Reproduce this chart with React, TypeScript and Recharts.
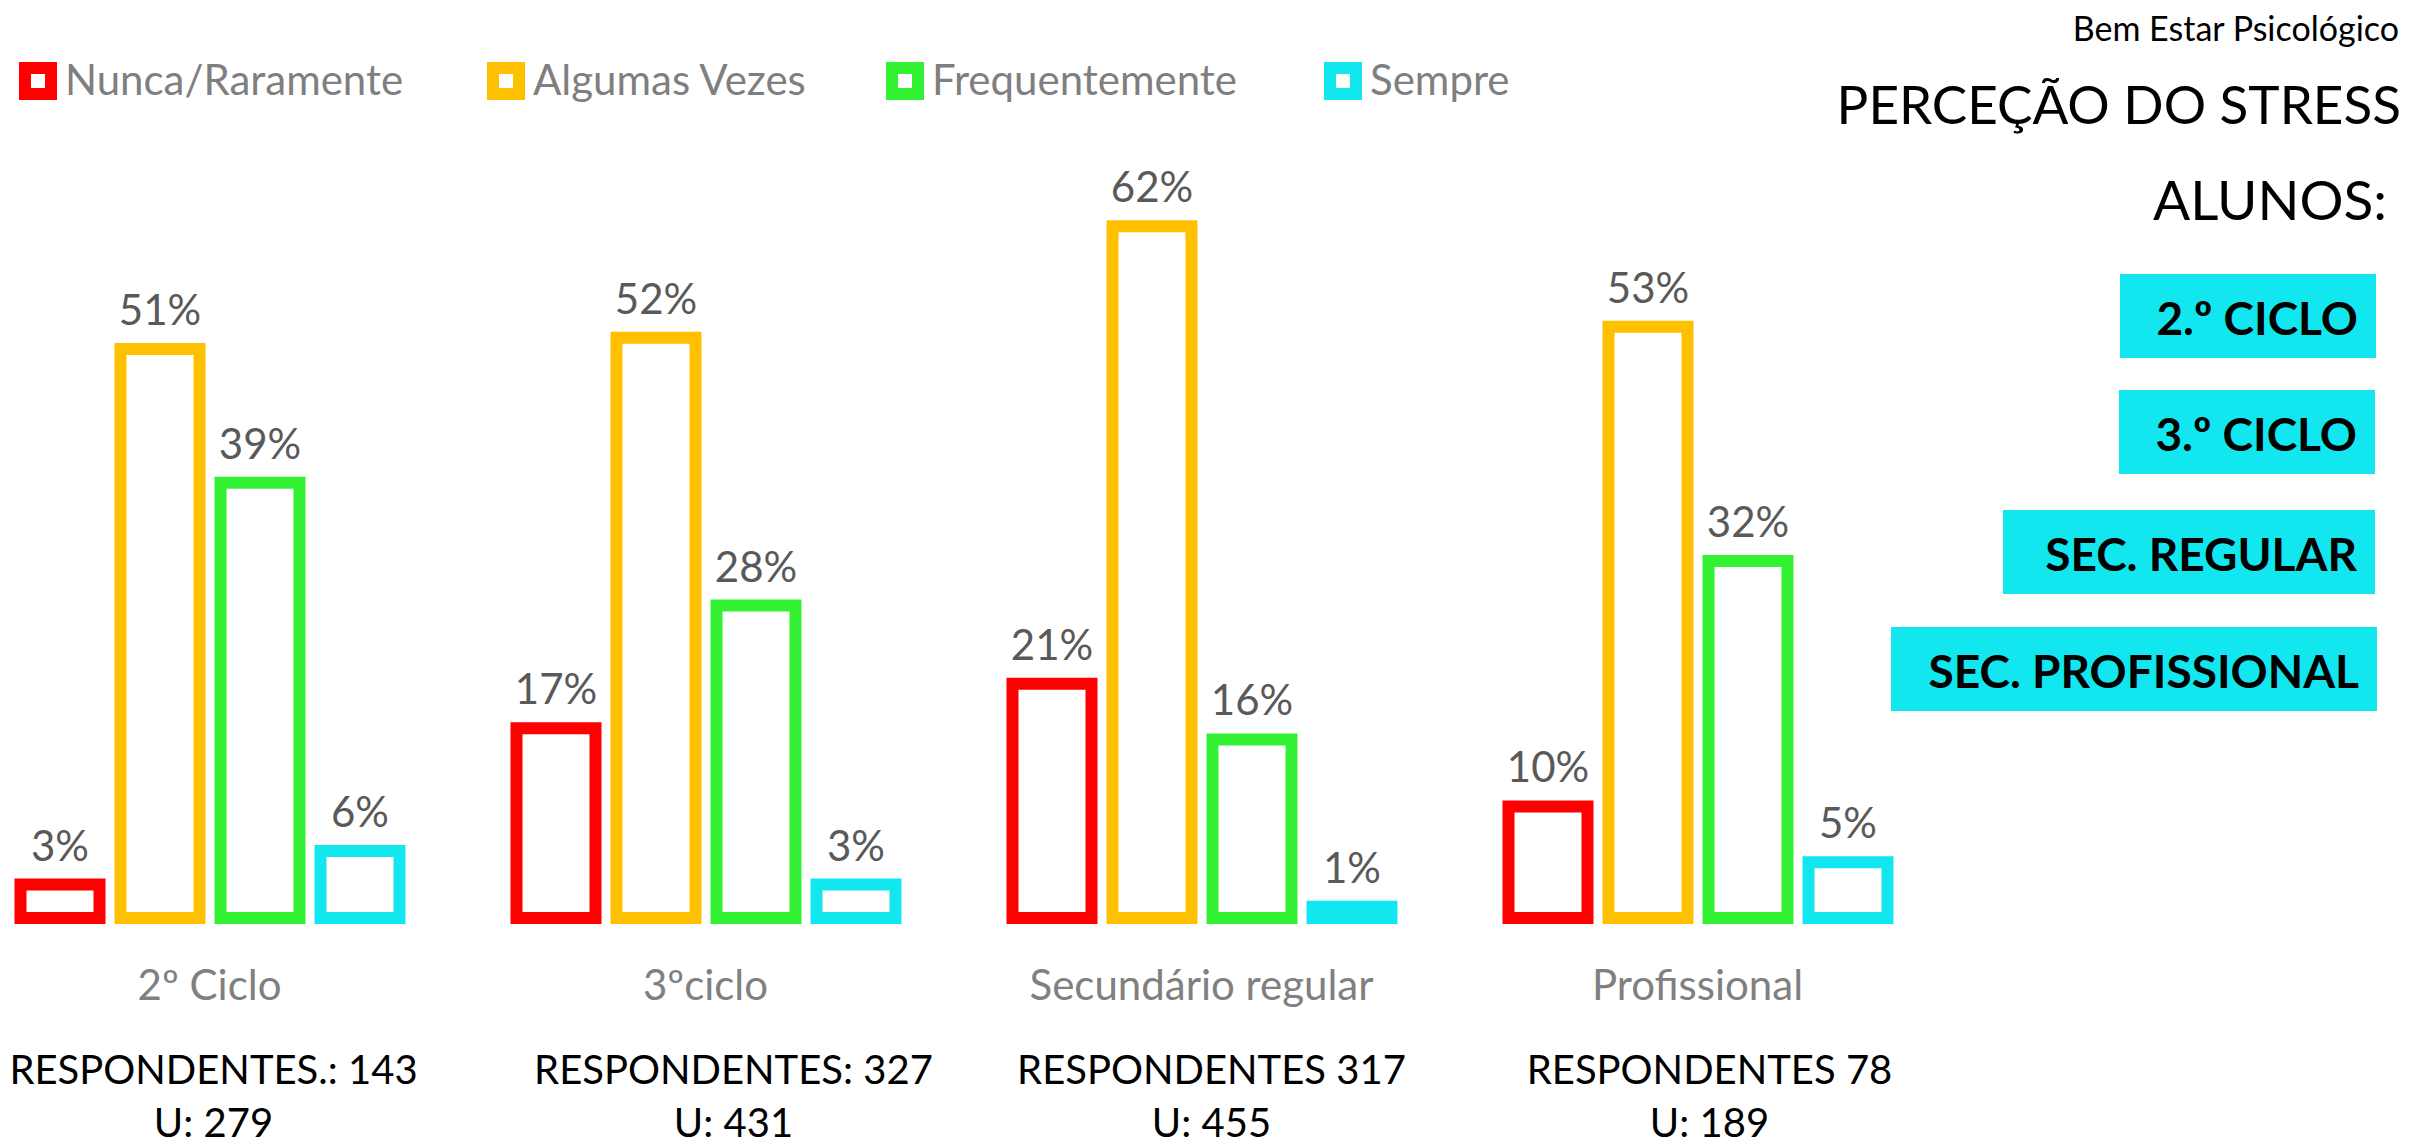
import { BarChart, Bar, XAxis, YAxis, LabelList } from 'recharts'

// categorias e valores (%)
const categories = ['2º Ciclo', '3ºciclo', 'Secundário regular', 'Profissional']
const nunca = [3, 17, 21, 10]
const algumas = [51, 52, 62, 53]
const frequentemente = [39, 28, 16, 32]
const sempre = [6, 3, 1, 5]

const respondentes = ['RESPONDENTES.: 143', 'RESPONDENTES: 327', 'RESPONDENTES 317', 'RESPONDENTES 78']
const universo = ['U: 279', 'U: 431', 'U: 455', 'U: 189']

const seriesNames = ['Nunca/Raramente', 'Algumas Vezes', 'Frequentemente', 'Sempre']
const seriesKeys = ['nunca', 'algumas', 'frequentemente', 'sempre']
const seriesColors = ['#FF0000', '#FFC000', '#33F233', '#12E6EF']

const niveis = ['2.º CICLO', '3.º CICLO', 'SEC. REGULAR', 'SEC. PROFISSIONAL']

const data = categories.map((name, i) => ({
  name,
  nunca: nunca[i],
  algumas: algumas[i],
  frequentemente: frequentemente[i],
  sempre: sempre[i]
}))

const FONT = "Lato, 'Noto Sans', sans-serif"

// ajustes de layout
const respDx = [4, 28, 10, 12]
const legendX = [19, 487, 886, 1324]
const boxes = [
  { x: 2120, y: 274, w: 256 },
  { x: 2119, y: 390, w: 256 },
  { x: 2003, y: 510, w: 372 },
  { x: 1891, y: 627, w: 486 }
]

const GroupTick = (props: any) => {
  const { x, y, payload } = props
  const i = payload.index
  return (
    <g fontFamily={FONT}>
      <text x={x} y={y + 82} textAnchor="middle" fill="#808080" fontSize={42}>
        {payload.value}
      </text>
      <text x={x + respDx[i]} y={y + 166} textAnchor="middle" fill="#000" fontSize={40}>
        {respondentes[i]}
      </text>
      <text x={x + respDx[i]} y={y + 219} textAnchor="middle" fill="#000" fontSize={40}>
        {universo[i]}
      </text>
    </g>
  )
}

const App = () => {
  return (
    <div style={{ position: 'absolute', left: 0, top: 0, width: 2410, height: 1147, background: '#fff', fontFamily: FONT }}>
      <BarChart
        width={2410}
        height={1147}
        data={data}
        margin={{ top: 137, right: 464.5, bottom: 0, left: -38.5 }}
        barSize={79}
        barGap={21}
      >
        <XAxis
          dataKey="name"
          axisLine={false}
          tickLine={false}
          tickSize={0}
          tickMargin={0}
          height={229}
          interval={0}
          tick={(p: any) => <GroupTick {...p} />}
        />
        <YAxis hide domain={[0, 70]} />
        {seriesKeys.map((k, i) => (
          <Bar
            key={k}
            dataKey={k}
            name={seriesNames[i]}
            fill="#fff"
            stroke={seriesColors[i]}
            strokeWidth={12}
            isAnimationActive={false}
          >
            <LabelList
              dataKey={k}
              position="top"
              offset={24}
              formatter={(v: any) => `${v}%`}
              fill="#595959"
              fontSize={42}
              fontFamily={FONT}
            />
          </Bar>
        ))}
      </BarChart>

      <svg width={2410} height={1147} style={{ position: 'absolute', left: 0, top: 0, pointerEvents: 'none' }} fontFamily={FONT}>
        {/* legenda */}
        {seriesNames.map((n, i) => (
          <g key={n}>
            <rect x={legendX[i] + 6} y={68} width={26} height={26} fill="#fff" stroke={seriesColors[i]} strokeWidth={12} />
            <text x={legendX[i] + 46} y={95} fill="#7F7F7F" fontSize={42}>{n}</text>
          </g>
        ))}

        {/* títulos à direita */}
        <text x={2399} y={41} textAnchor="end" fill="#000" fontSize={34}>Bem Estar Psicológico</text>
        <text x={2401} y={124} textAnchor="end" fill="#000" fontSize={53}>PERCEÇÃO DO STRESS</text>
        <text x={2387} y={220} textAnchor="end" fill="#000" fontSize={55}>ALUNOS:</text>

        {niveis.map((t, i) => (
          <g key={t}>
            <rect x={boxes[i].x} y={boxes[i].y} width={boxes[i].w} height={84} fill="#12E6EF" />
            <text x={boxes[i].x + boxes[i].w - 18} y={boxes[i].y + 61} textAnchor="end" fill="#000" fontSize={46} fontWeight="bold">
              {t}
            </text>
          </g>
        ))}
      </svg>
    </div>
  )
}

export default App
